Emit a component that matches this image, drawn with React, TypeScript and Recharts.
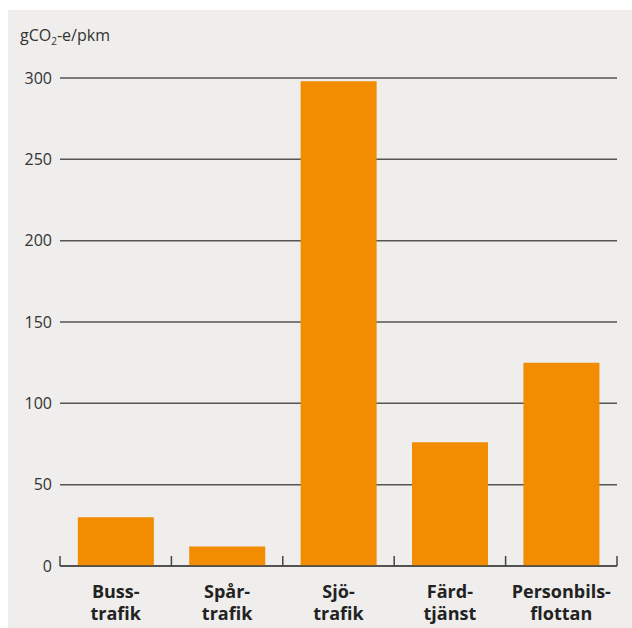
import { Bar, BarChart, CartesianGrid, XAxis, YAxis } from 'recharts'

const categories = ['Buss-\ntrafik', 'Spår-\ntrafik', 'Sjö-\ntrafik', 'Färd-\ntjänst', 'Personbils-\nflottan']
const emissions = [30, 12, 298, 76, 125]
const yTicks = [0, 50, 100, 150, 200, 250, 300]

const data = categories.map((name, i) => ({ name, value: emissions[i] }))

const WIDTH = 632
const HEIGHT = 628
const PLOT_LEFT = 60
const PLOT_RIGHT = 617
const BAND = (PLOT_RIGHT - PLOT_LEFT) / categories.length
const FONT = '"Open Sans", "Noto Sans", sans-serif'

function CategoryTick(props: any) {
  const { x, y, payload, index } = props
  const lines = String(payload.value).split('\n')
  return (
    <g>
      <line x1={x - BAND / 2} x2={x - BAND / 2} y1={y} y2={y - 10} stroke="#444" strokeWidth={1.5} />
      {index === categories.length - 1 && (
        <line x1={x + BAND / 2} x2={x + BAND / 2} y1={y} y2={y - 10} stroke="#444" strokeWidth={1.5} />
      )}
      <text x={x} y={y + 32} textAnchor="middle" fill="#222" fontSize={18} fontWeight={700} fontFamily={FONT}>
        <tspan x={x}>{lines[0]}</tspan>
        <tspan x={x} dy={22}>{lines[1]}</tspan>
      </text>
    </g>
  )
}

export default function App() {
  return (
    <div style={{ position: 'absolute', left: 0, top: 0, width: WIDTH, height: HEIGHT, background: '#fff' }}>
      <div style={{ position: 'absolute', left: 8, top: 10, right: 0, bottom: 0, background: '#efeeec' }} />
      <div style={{ position: 'absolute', left: 0, top: 0 }}>
        <BarChart
          width={WIDTH}
          height={HEIGHT}
          data={data}
          margin={{ top: 78, right: WIDTH - PLOT_RIGHT, bottom: 0, left: 10 }}
          barCategoryGap="16%"
        >
          <text x={20} y={41} fill="#333" fontSize={16} fontFamily={FONT}>
            gCO
            <tspan fontSize={10} dy={4}>2</tspan>
            <tspan dy={-4}>-e/pkm</tspan>
          </text>
          <CartesianGrid horizontal vertical={false} stroke="#555" strokeWidth={1.5} />
          <XAxis
            dataKey="name"
            interval={0}
            tickLine={false}
            tickSize={0}
            tickMargin={0}
            axisLine={{ stroke: '#444', strokeWidth: 1.5 }}
            tick={<CategoryTick />}
            height={62}
          />
          <YAxis
            domain={[0, 300]}
            ticks={yTicks}
            interval={0}
            width={PLOT_LEFT - 10}
            axisLine={false}
            tickLine={false}
            tickSize={0}
            tickMargin={8}
            tick={{ fill: '#333', fontSize: 16, fontFamily: FONT }}
          />
          <Bar dataKey="value" fill="#f28c00" isAnimationActive={false} />
        </BarChart>
      </div>
    </div>
  )
}
